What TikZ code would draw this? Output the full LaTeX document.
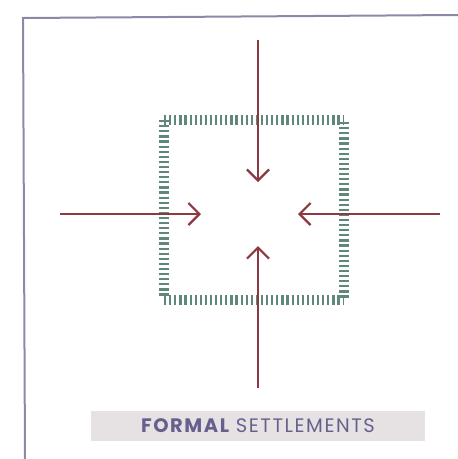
\documentclass[tikz,border=0pt]{standalone}
\usepackage{fontspec}
\setsansfont{Poppins}
\definecolor{FrameColor}{RGB}{140,136,165}
\definecolor{ArrowColor}{RGB}{142,56,66}
\definecolor{FenceColor}{RGB}{96,136,120}
\definecolor{LabelFill}{RGB}{230,226,228}
\definecolor{LabelText}{RGB}{104,96,140}
\usetikzlibrary{arrows.meta, positioning}

\begin{document}
\begin{tikzpicture}[x=1pt, y=-1pt,
    push/.style={-{Straight Barb[length=11pt, width=22pt, line width=2.2pt]}, line width=2.2pt, ArrowColor},
    fence/.style={line width=10pt, FenceColor, dash pattern=on 2.2pt off 2.9pt}]
  \useasboundingbox (0,0) rectangle (458,459);
  % frame
  \draw[line width=2pt, FrameColor] (458,15) -- (23,18) -- (25,459);
  % hatched boundary
  \draw[fence] (164,120) -- (344,120);
  \draw[fence] (344,122) -- (344,298);
  \draw[fence] (164,300) -- (344,300);
  \draw[fence] (164,120) -- (164,298);
  % arrows pointing inwards
  \coordinate (topStart) at (258,40);
  \coordinate (topEnd) at (258,182);
  \coordinate (botStart) at (258,388);
  \coordinate (botEnd) at (258,246);
  \coordinate (leftStart) at (60,214);
  \coordinate (leftEnd) at (201,214);
  \coordinate (rightStart) at (440,214);
  \coordinate (rightEnd) at (298,214);
  \draw[push] (topStart) -- (topEnd);
  \draw[push] (botStart) -- (botEnd);
  \draw[push] (leftStart) -- (leftEnd);
  \draw[push] (rightStart) -- (rightEnd);
  % label
  \node[fill=LabelFill, minimum width=334pt, minimum height=30pt, inner sep=0pt, text=LabelText,
        font=\sffamily\fontsize{19.5}{19.5}\selectfont\addfontfeature{LetterSpace=8}] (label) at (258,426)
        {{\bfseries FORMAL} SETTLEMENTS};
\end{tikzpicture}
\end{document}
